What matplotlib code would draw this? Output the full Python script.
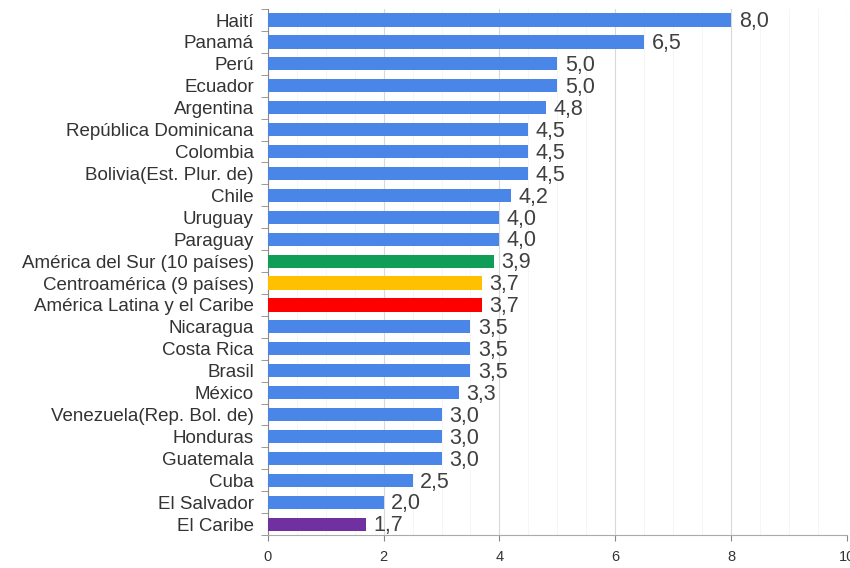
"""Horizontal bar chart by country"""

import matplotlib.pyplot as plt
import numpy as np

plt.rcParams['font.family'] = ['Liberation Sans', 'DejaVu Sans']

countries = ['Haití', 'Panamá', 'Perú', 'Ecuador', 'Argentina',
             'República Dominicana', 'Colombia', 'Bolivia(Est. Plur. de)',
             'Chile', 'Uruguay', 'Paraguay', 'América del Sur (10 países)',
             'Centroamérica (9 países)', 'América Latina y el Caribe',
             'Nicaragua', 'Costa Rica', 'Brasil', 'México',
             'Venezuela(Rep. Bol. de)', 'Honduras', 'Guatemala', 'Cuba',
             'El Salvador', 'El Caribe']
values = [8.0, 6.5, 5.0, 5.0, 4.8, 4.5, 4.5, 4.5, 4.2, 4.0, 4.0, 3.9,
          3.7, 3.7, 3.5, 3.5, 3.5, 3.3, 3.0, 3.0, 3.0, 2.5, 2.0, 1.7]

blue = '#4a86e8'
special = {'América del Sur (10 países)': '#0f9d58',
           'Centroamérica (9 países)': '#ffc000',
           'América Latina y el Caribe': '#ff0000',
           'El Caribe': '#7030a0'}
colors = [special.get(c, blue) for c in countries]

fig = plt.figure(figsize=(8.5, 5.68), dpi=100)
ax = fig.add_axes([0.315, 0.058, 0.6815, 0.926])

y = np.arange(len(countries))
ax.barh(y, values, height=0.6, color=colors, zorder=3)

for yi, v in zip(y, values):
    ax.text(v + 0.13, yi + 0.08, f'{v:.1f}'.replace('.', ','),
            va='center', ha='left', fontsize=15.5, color='#404040', zorder=4)

ax.set_xlim(0, 10)
ax.set_ylim(len(countries) - 0.5, -0.5)
ax.set_xticks([0, 2, 4, 6, 8, 10])
ax.set_xticklabels(['0', '2', '4', '6', '8', '10'], fontsize=10.5, color='#333333')
ax.set_yticks(y)
ax.set_yticklabels(countries, fontsize=13.5, color='#333333')
ax.tick_params(axis='y', which='major', length=0, pad=10)
ax.set_yticks(np.arange(-0.5, len(countries)), minor=True)
ax.tick_params(axis='y', which='minor', length=5, color='#888888')
ax.tick_params(axis='x', length=4, color='#888888', pad=7)

# light vertical grid
ax.grid(axis='x', color='#d9d9d9', linewidth=0.8, zorder=0)
ax.set_xticks(np.arange(0, 10.01, 0.5), minor=True)
ax.grid(axis='x', which='minor', color='#f4f4f4', linewidth=0.6, zorder=0)
ax.tick_params(axis='x', which='minor', length=0)

for side in ['top', 'right']:
    ax.spines[side].set_visible(False)
ax.spines['left'].set_color('#888888')
ax.spines['bottom'].set_color('#aaaaaa')

plt.savefig('out.png')
